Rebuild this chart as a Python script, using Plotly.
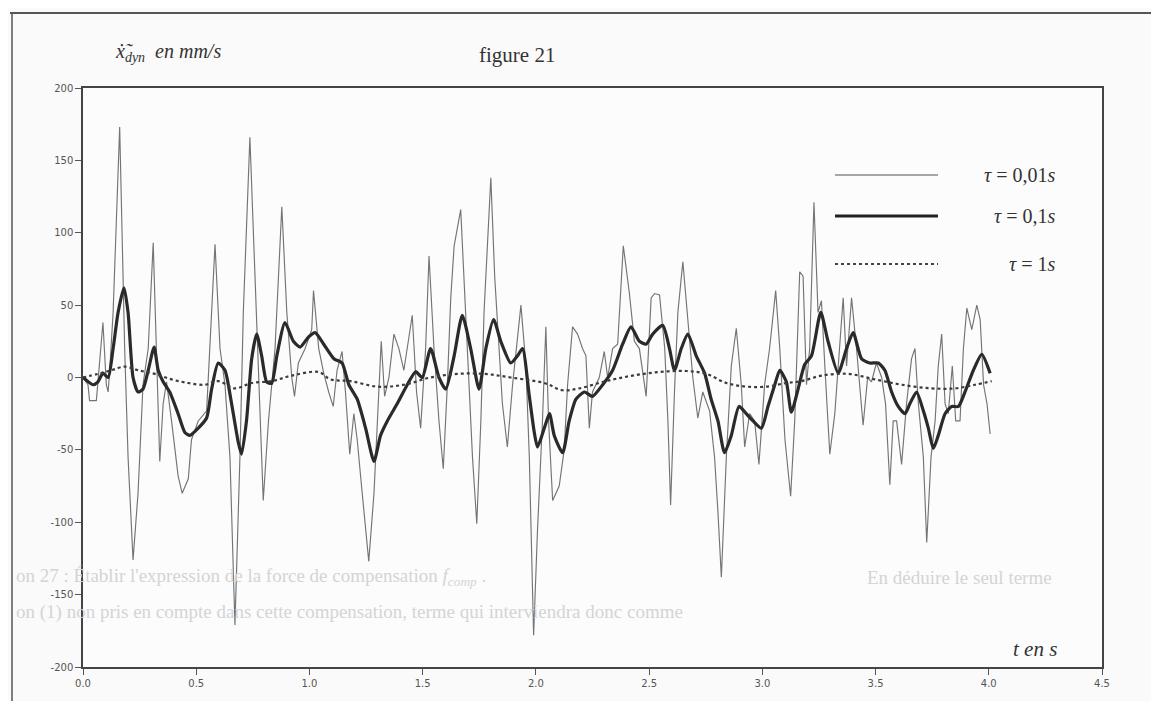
import plotly.graph_objects as go

# ---------------- data ----------------
t_fast = [0.000,0.022,0.029,0.059,0.066,0.088,0.103,0.111,0.118,0.133,
          0.162,0.184,0.199,0.221,0.243,0.265,0.288,0.310,0.324,0.339,
          0.354,0.369,0.391,0.420,0.438,0.465,0.479,0.509,0.546,0.560,
          0.583,0.605,0.627,0.649,0.671,0.693,0.708,0.737,0.760,0.782,
          0.796,0.819,0.848,0.878,0.900,0.922,0.934,0.951,0.981,1.010,1.018,
          1.041,1.063,1.085,1.105,1.122,1.144,1.159,1.178,1.196,1.211,
          1.233,1.262,1.285,1.300,1.317,1.332,1.351,1.373,1.395,1.417,
          1.454,1.473,1.491,1.513,1.528,1.550,1.572,1.591,1.609,1.624,
          1.639,1.668,1.686,1.705,1.720,1.739,1.757,1.771,1.801,1.818,
          1.838,1.852,1.874,1.897,1.934,1.956,1.971,1.990,2.007,2.029,
          2.044,2.056,2.074,2.103,2.125,2.140,2.162,2.184,2.206,2.221,
          2.236,2.250,2.280,2.302,2.317,2.339,2.361,2.386,2.413,2.435,
          2.457,2.487,2.509,2.524,2.546,2.569,2.583,2.595,2.612,2.627,
          2.649,2.671,2.693,2.715,2.737,2.767,2.789,2.804,2.819,2.841,
          2.863,2.885,2.907,2.922,2.944,2.966,2.985,3.010,3.032,3.059,
          3.077,3.100,
          3.125,3.143,3.165,3.180,3.195,3.209,3.228,3.246,3.261,3.276,
          3.298,3.320,3.342,3.357,3.372,3.394,3.416,3.431,3.445,3.465,
          3.482,3.504,3.527,3.544,3.563,3.578,3.593,3.615,3.637,3.659,
          3.674,3.689,3.711,3.726,3.745,3.763,3.777,3.792,3.807,3.821,
          3.839,3.854,3.873,3.888,3.903,3.925,3.947,3.962,3.977,3.992,4.006]
v_fast = [0,-5,-16,-16,-3,38,-5,-10,5,45,
          173,20,-55,-126,-80,-5,20,93,20,-58,
          -18,-3,-30,-68,-80,-70,-43,-30,-23,20,
          92,20,-5,-55,-171,-55,45,166,70,-30,
          -85,-30,20,118,45,0,-13,10,20,33,60,
          20,3,-10,-20,5,18,-10,-53,-25,-43,
          -80,-127,-80,-30,25,-13,0,30,20,5,
          43,-10,-35,20,84,20,-30,-63,-5,55,
          91,116,58,-5,-55,-101,-30,45,138,70,
          20,-18,-48,-5,50,8,-55,-178,-106,-30,
          35,-30,-85,-75,-50,-5,35,30,20,15,
          -35,-10,0,18,0,20,23,91,58,25,
          20,-13,55,58,57,20,-30,-88,-10,45,
          80,40,0,-28,-10,-23,-55,-93,-138,-55,
          8,34,-5,-48,-25,-30,-60,-5,20,60,
          20,-43,
          -82,-30,73,70,-5,20,121,45,53,8,
          -53,-25,20,55,8,55,20,-10,-33,0,
          -3,10,0,-18,-74,-30,-30,-60,-18,13,
          20,-18,-55,-114,-55,-30,8,30,-18,-25,
          8,-30,-30,20,48,33,50,40,-5,-18,-39]

t_mid = [0.000,0.044,0.066,0.088,0.111,0.133,0.155,0.181,0.199,0.221,
         0.243,0.265,0.288,0.314,0.332,0.354,0.383,0.420,0.450,0.472,
         0.509,0.546,0.568,0.597,0.627,0.656,0.686,0.700,0.722,0.745,
         0.767,0.789,0.811,0.833,0.856,0.892,0.929,0.959,0.996,1.025,
         1.063,1.108,1.144,1.174,1.211,1.248,1.285,1.314,1.344,1.388,
         1.432,1.469,1.498,1.535,1.572,1.602,1.639,1.675,1.712,1.749,
         1.779,1.813,1.845,1.889,1.919,1.941,1.971,1.993,2.007,2.037,2.060,
         2.081,2.118,2.147,2.177,2.214,2.250,2.295,2.339,2.383,2.420,
         2.457,2.487,2.516,2.560,2.590,2.612,2.642,2.671,2.708,2.745,
         2.774,2.804,2.833,2.863,2.897,2.929,2.959,2.996,3.025,3.055,
         3.077,3.106,
         3.128,3.158,3.187,3.217,3.258,3.290,3.335,3.372,3.401,3.438,
         3.475,3.512,3.541,3.571,3.600,3.630,3.652,3.681,3.711,3.733,
         3.755,3.777,3.807,3.836,3.866,3.895,3.932,3.969,4.006]
v_mid = [0,-5,-3,3,0,20,45,62,45,0,
         -10,-8,5,21,5,-3,-10,-25,-38,-40,
         -35,-28,-8,10,5,-18,-45,-53,-30,13,
         30,15,-3,-4,15,38,25,21,28,31,
         23,13,10,-5,-15,-35,-58,-40,-30,-18,
         -5,4,0,20,0,-8,15,43,20,-8,
         20,40,25,10,15,20,-13,-38,-48,-35,-25,
         -40,-52,-30,-15,-10,-13,-5,5,23,35,
         25,23,30,36,20,5,20,30,15,3,
         -15,-30,-52,-40,-20,-25,-30,-35,-20,-5,
         5,-3,
         -24,-8,9,15,45,25,3,20,31,13,
         10,10,5,-10,-20,-25,-18,-10,-23,-35,
         -49,-40,-25,-20,-20,-10,5,16,3]

t_slow = [0.000,0.066,0.125,0.184,0.243,0.317,0.391,0.465,0.538,0.597,
          0.671,0.745,0.833,0.922,1.040,1.093,1.181,1.300,1.417,1.535,
          1.652,1.771,1.889,2.037,2.118,2.192,2.310,2.427,2.546,2.664,
          2.752,2.841,2.929,3.018,3.106,3.173,3.261,3.379,3.497,3.615,
          3.745,3.851,3.940,4.013]
v_slow = [0,2.5,5,7.5,5,2.5,-1.3,-3.8,-5,-2.5,
          -7.5,-3.8,-2.5,1.3,3.8,-1.3,-2.5,-6.3,-5,0,
          2.5,2.5,0,-3.8,-8.8,-7.5,-2.5,1.3,3.8,4.5,
          2.5,-3.8,-6.3,-6.3,-3.8,-2.5,1.3,2.5,-1.3,-5,
          -7.5,-7.5,-5,-2.5]

series_names = ["τ = 0,01s", "τ = 0,1s", "τ = 1s"]
legend_labels = ["<i>τ</i> = 0,01<i>s</i>", "<i>τ</i> = 0,1<i>s</i>", "<i>τ</i> = 1<i>s</i>"]

x_ticks = [0.0, 0.5, 1.0, 1.5, 2.0, 2.5, 3.0, 3.5, 4.0, 4.5]
x_ticktext = ["0.0", "0.5", "1.0", "1.5", "2.0", "2.5", "3.0", "3.5", "4.0", "4.5"]
y_ticks = [-200, -150, -100, -50, 0, 50, 100, 150, 200]
y_ticktext = ["-200", "-150", "-100", "-50", "0", "50", "100", "150", "200"]

# ---------------- layout geometry ----------------
# the page body adds an 8px offset; plot area in page pixels: x 83..1102, y 88..667
OFF = 8
W, H = 1159 - 2 * OFF, 709 - 2 * OFF
PX0, PX1, PY0, PY1 = 83, 1102, 88, 667
L, T = PX0 - OFF, PY0 - OFF
PW, PH = PX1 - PX0, PY1 - PY0
R, B = W - L - PW, H - T - PH

def px(x):
    return (x - PX0) / PW

def py(y):
    return (PY1 - y) / PH

styles = [
    dict(color="#747474", width=1.15),
    dict(color="#2a2a2a", width=3.2, shape="spline", smoothing=0.6),
    dict(color="#3c3c3c", width=2.2, dash="dot", shape="spline", smoothing=1.0),
]

fig = go.Figure()
for (tt, vv), name, st in zip([(t_fast, v_fast), (t_mid, v_mid), (t_slow, v_slow)], series_names, styles):
    fig.add_trace(go.Scatter(x=tt, y=vv, mode="lines", name=name, line=st,
                             showlegend=False, hoverinfo="skip"))

serif = "Liberation Serif"
tickfont = dict(family="DejaVu Sans", size=10, color="#555555")

fig.update_layout(
    width=W, height=H,
    margin=dict(l=L, r=R, t=T, b=B, pad=0),
    paper_bgcolor="#fafafa",
    plot_bgcolor="#fcfcfc",
    xaxis=dict(range=[0, 4.5], tickvals=x_ticks, ticktext=x_ticktext,
               ticks="outside", ticklen=6, tickcolor="#555555", tickwidth=1,
               showline=True, linecolor="#444444", linewidth=1.5, mirror=True,
               showgrid=False, zeroline=False, tickfont=tickfont),
    yaxis=dict(range=[-200, 200], tickvals=y_ticks, ticktext=y_ticktext,
               ticks="outside", ticklen=6, tickcolor="#555555", tickwidth=1,
               showline=True, linecolor="#444444", linewidth=1.5, mirror=True,
               showgrid=False, zeroline=False, tickfont=tickfont),
)

shapes = []
# page frame (scanned document border)
shapes.append(dict(type="line", xref="paper", yref="paper", x0=px(10), x1=px(1159), y0=py(13), y1=py(13),
                   line=dict(color="#555555", width=2)))
shapes.append(dict(type="line", xref="paper", yref="paper", x0=px(12), x1=px(12), y0=py(13), y1=py(709),
                   line=dict(color="#555555", width=1.5)))
# legend sample lines
leg_y = [175, 216, 264]
leg_styles = [dict(color="#8a8a8a", width=1.5), dict(color="#222222", width=3),
              dict(color="#444444", width=2.2, dash="dot")]
for yy, st in zip(leg_y, leg_styles):
    shapes.append(dict(type="line", xref="paper", yref="paper", x0=px(835), x1=px(938), y0=py(yy), y1=py(yy), line=st))
fig.update_layout(shapes=shapes)

ann = []
for yy, lab in zip(leg_y, legend_labels):
    ann.append(dict(x=px(1057), y=py(yy), xref="paper", yref="paper", text=lab, showarrow=False,
                    xanchor="right", yanchor="middle", font=dict(family=serif, size=20, color="#333333")))
ann.append(dict(x=px(113), y=py(52), xref="paper", yref="paper",
                text="<i>\u1e8b\u0303</i><sub><i>dyn</i></sub>  <i>en mm/s</i>", showarrow=False,
                xanchor="left", yanchor="middle", font=dict(family=serif, size=20, color="#333333")))
ann.append(dict(x=px(517), y=py(55), xref="paper", yref="paper", text="figure 21", showarrow=False,
                xanchor="center", yanchor="middle", font=dict(family=serif, size=21, color="#333333")))
ann.append(dict(x=px(1035), y=py(649), xref="paper", yref="paper", text="<i>t en s</i>", showarrow=False,
                xanchor="center", yanchor="middle", font=dict(family=serif, size=21, color="#333333")))
# faint bleed-through text of the scanned page
ghost = dict(family=serif, size=19, color="#d4d4d4")
ann.append(dict(x=px(14), y=py(577), xref="paper", yref="paper", showarrow=False, xanchor="left", yanchor="middle",
                text="on 27 : Établir l'expression de la force de compensation <i>f<sub>comp</sub></i> .", font=ghost))
ann.append(dict(x=px(865), y=py(577), xref="paper", yref="paper", showarrow=False, xanchor="left", yanchor="middle",
                text="En déduire le seul terme", font=ghost))
ann.append(dict(x=px(14), y=py(612), xref="paper", yref="paper", showarrow=False, xanchor="left", yanchor="middle",
                text="on (1) non pris en compte dans cette compensation, terme qui interviendra donc comme", font=ghost))
fig.update_layout(annotations=ann)

fig.write_html("out.html")
